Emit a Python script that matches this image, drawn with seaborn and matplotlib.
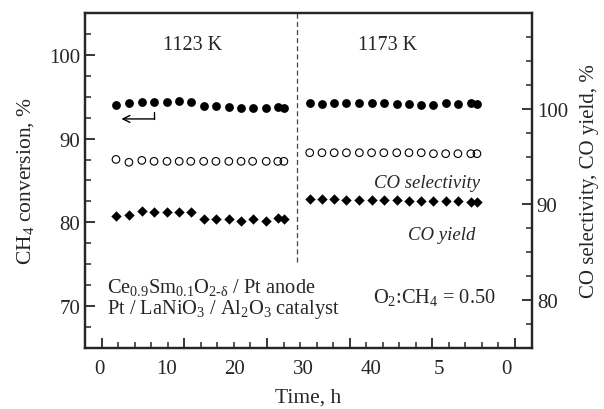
import numpy as np
import pandas as pd
import matplotlib
matplotlib.use("Agg")
import matplotlib.pyplot as plt
import seaborn as sns

# ---- data (time in h, values in %) ----
time_1123 = [2.5, 4.4, 6.3, 8.1, 10.0, 11.8, 13.5, 15.4, 17.2, 19.1, 20.9, 22.6, 24.6, 26.3, 27.2]
time_1173 = [31.0, 32.8, 34.6, 36.4, 38.3, 40.1, 41.9, 43.8, 45.6, 47.4, 49.2, 51.0, 52.8, 54.7, 55.6]

ch4_1123 = [94.0, 94.2, 94.4, 94.4, 94.4, 94.5, 94.4, 93.9, 93.9, 93.8, 93.7, 93.7, 93.7, 93.8, 93.7]
ch4_1173 = [94.2, 94.1, 94.2, 94.2, 94.2, 94.2, 94.2, 94.1, 94.1, 94.0, 94.0, 94.3, 94.1, 94.2, 94.1]

sel_1123 = [94.7, 94.4, 94.6, 94.5, 94.5, 94.5, 94.5, 94.5, 94.5, 94.5, 94.5, 94.5, 94.5, 94.5, 94.5]
sel_1173 = [95.4, 95.4, 95.4, 95.4, 95.4, 95.4, 95.4, 95.4, 95.4, 95.4, 95.3, 95.3, 95.3, 95.3, 95.3]

yld_1123 = [88.8, 88.9, 89.3, 89.2, 89.2, 89.2, 89.2, 88.5, 88.5, 88.5, 88.3, 88.5, 88.3, 88.6, 88.5]
yld_1173 = [90.6, 90.6, 90.6, 90.5, 90.5, 90.5, 90.5, 90.5, 90.4, 90.4, 90.4, 90.4, 90.4, 90.3, 90.3]

xtick_labels = ["0", "10", "20", "30", "40", "5", "0"]
xlabel_pos = [0, 10, 20, 30, 40, 50, 60]
left_ticks = [70, 80, 90, 100]
right_ticks = [80, 90, 100]
switch_time = 29.1

df = pd.DataFrame({
    "time": time_1123 + time_1173,
    "ch4": ch4_1123 + ch4_1173,
    "sel": sel_1123 + sel_1173,
    "yld": yld_1123 + yld_1173,
})

sns.set_style("ticks")
plt.rcParams["font.family"] = ["Liberation Serif", "DejaVu Serif"]
plt.rcParams["mathtext.fontset"] = "custom"
plt.rcParams["mathtext.rm"] = "Liberation Serif"
plt.rcParams["mathtext.it"] = "Liberation Serif:italic"
plt.rcParams["mathtext.bf"] = "Liberation Serif:bold"

fig = plt.figure(figsize=(6.04, 4.10), dpi=100)
ax = fig.add_axes([0.1407, 0.1488, 0.7401, 0.8171])
ax2 = ax.twinx()

sns.scatterplot(data=df, x="time", y="ch4", ax=ax, marker="o", color="black",
                s=40, linewidth=0, zorder=3)
sns.scatterplot(data=df, x="time", y="sel", ax=ax2, marker="o", facecolors="none",
                edgecolor="black", linewidth=0.8, s=30, zorder=3)
sns.scatterplot(data=df, x="time", y="yld", ax=ax2, marker="D", color="black",
                s=28, linewidth=0, zorder=3)

ax.set_xlim(-2.06, 63.7)
ax.set_ylim(65, 105)
ax2.set_ylim(75, 110)

# tick marks (inward), labels on a secondary axis at their own positions
tick0, tick_step = 0.4, 12.16
ax.set_xticks([tick0 + tick_step * k for k in range(6)])
ax.set_xticks([tick0 + tick_step / 5 * k for k in range(26)], minor=True)
ax.tick_params(axis="x", which="both", labelbottom=False)
sec = ax.secondary_xaxis("bottom")
sec.set_xticks(xlabel_pos)
sec.set_xticklabels(xtick_labels)
sec.tick_params(length=0, labelsize=15, pad=8)
sec.spines["bottom"].set_visible(False)
sec.set_xlabel("Time, h", fontsize=15.5, labelpad=7)

ax.set_yticks(left_ticks)
ax.set_yticks(np.arange(67.5, 105, 2.5), minor=True)
ax2.set_yticks(right_ticks)
ax2.set_yticks(np.arange(77.5, 110, 2.5), minor=True)

for a in (ax, ax2):
    a.tick_params(which="major", direction="in", length=7, width=1.3, labelsize=15)
    a.tick_params(which="minor", direction="in", length=4, width=1.1)
    for sp in a.spines.values():
        sp.set_linewidth(1.6)
ax.tick_params(axis="y", which="both", right=False)
ax2.tick_params(axis="y", which="both", left=False)
ax.tick_params(axis="x", which="both", top=False)
ax.set_xlabel("")
ax.set_ylabel(r"CH$_4$ conversion, %", fontsize=15.5, labelpad=9)
ax2.set_ylabel("CO selectivity, CO yield, %", fontsize=15, labelpad=9)

# dashed separator
ax.vlines(switch_time, 75.3, 105, colors="#444444", linestyles=(0, (4, 2.5)), linewidth=0.9)

# temperature labels
ax.text(13.8, 101.2, "1123 K", ha="center", va="center", fontsize=14.5)
ax.text(42.5, 101.2, "1173 K", ha="center", va="center", fontsize=14.5)

# bent arrow pointing to left axis
ax.plot([time_1123[3], time_1123[3]], [93.2, 92.35], color="black", lw=1)
ax.annotate("", xy=(3.3, 92.35), xytext=(time_1123[3] + 0.08, 92.35),
            arrowprops=dict(arrowstyle="->,head_length=0.5,head_width=0.25", lw=1,
                            color="black", shrinkA=0, shrinkB=0))

ax2.text(56.0, 92.3, "CO selectivity", ha="right", va="center", fontsize=13.5, style="italic")
ax2.text(55.3, 86.9, "CO yield", ha="right", va="center", fontsize=13.5, style="italic")

ax.text(1.18, 72.3, r"Ce$_{0.9}$Sm$_{0.1}$O$_{2\text{-}\mathrm{δ}}$ / Pt anode", ha="left", va="center", fontsize=14.7)
ax.text(1.18, 69.7, r"Pt / LaNiO$_3$ / Al$_2$O$_3$ catalyst", ha="left", va="center", fontsize=14.7)
ax.text(40.3, 71.1, r"O$_2$:CH$_4$ = 0.50", ha="left", va="center", fontsize=14.7)

fig.savefig("out.png", dpi=100)
